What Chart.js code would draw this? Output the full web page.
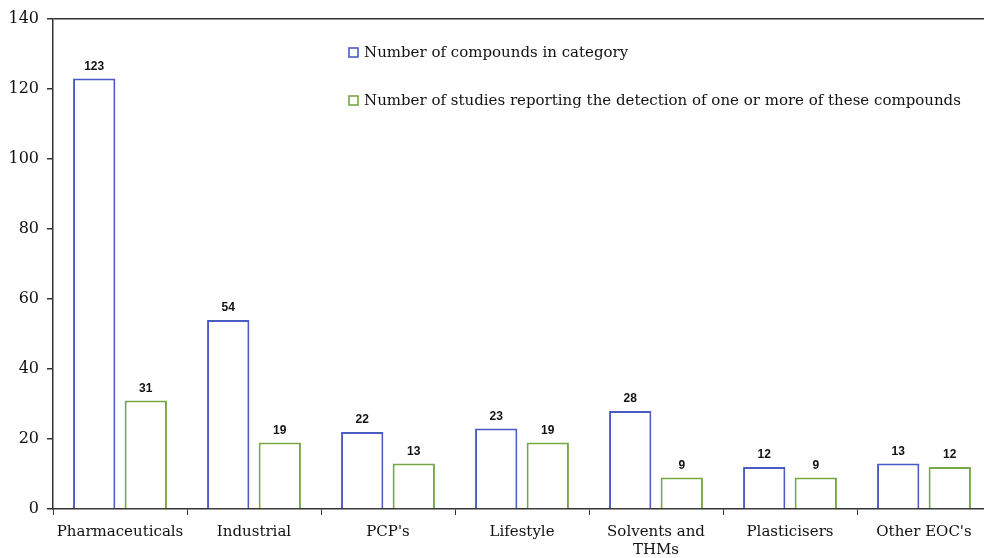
<!DOCTYPE html>
<html>
<head>
<meta charset="utf-8">
<script src="https://cdn.jsdelivr.net/npm/chart.js@4/dist/chart.umd.min.js"></script>
<style>
  html, body { margin: 0; padding: 0; background: #fff; overflow: hidden; }
  #wrap { width: 1000px; height: 558px; position: relative; }
</style>
</head>
<body>
<div id="wrap"><canvas id="chart"></canvas></div>
<script>
// data
const categories = ['Pharmaceuticals', 'Industrial', "PCP's", 'Lifestyle', ['Solvents and', 'THMs'], 'Plasticisers', "Other EOC's"];
const compoundCounts = [123, 54, 22, 23, 28, 12, 13];
const studyCounts = [31, 19, 13, 19, 9, 9, 12];
const yTicks = [0, 20, 40, 60, 80, 100, 120, 140];

const BLUE = '#4a5bc6';
const GREEN = '#78a845';
const SERIF = "'DejaVu Serif', serif";

// value labels above each bar
const barLabels = {
  id: 'barLabels',
  afterDatasetsDraw(chart) {
    const ctx = chart.ctx;
    ctx.save();
    ctx.font = "bold 12px 'Liberation Sans', Arial, sans-serif";
    ctx.fillStyle = '#111';
    ctx.textAlign = 'center';
    ctx.textBaseline = 'bottom';
    chart.data.datasets.forEach((ds, i) => {
      chart.getDatasetMeta(i).data.forEach((bar, j) => {
        ctx.fillText(ds.data[j], bar.x, bar.y - 6);
      });
    });
    ctx.restore();
  }
};

// legend sits inside the plot, stacked
const innerLegend = {
  id: 'innerLegend',
  afterDraw(chart) {
    const ctx = chart.ctx;
    const top = chart.chartArea.top;
    const x = chart.scales.x.getPixelForValue(2) - 39;
    const rows = [top + 34, top + 82];
    ctx.save();
    ctx.font = '15px ' + SERIF;
    ctx.textBaseline = 'middle';
    chart.data.datasets.forEach((ds, i) => {
      const y = rows[i];
      ctx.strokeStyle = ds.borderColor;
      ctx.lineWidth = 1.6;
      ctx.strokeRect(x, y - 5, 9, 9);
      ctx.fillStyle = '#111';
      ctx.fillText(ds.label, x + 15, y);
    });
    ctx.restore();
  }
};

new Chart(document.getElementById('chart'), {
  type: 'bar',
  data: {
    labels: categories,
    datasets: [
      { label: 'Number of compounds in category', data: compoundCounts, backgroundColor: '#fff', borderColor: BLUE, borderWidth: 2 },
      { label: 'Number of studies reporting the detection of one or more of these compounds', data: studyCounts, backgroundColor: '#fff', borderColor: GREEN, borderWidth: 2 }
    ]
  },
  options: {
    responsive: true,
    maintainAspectRatio: false,
    animation: false,
    layout: { padding: { top: 19, right: 9 } },
    categoryPercentage: 0.77,
    barPercentage: 0.82,
    plugins: { legend: { display: false }, tooltip: { enabled: false } },
    scales: {
      x: {
        border: { color: '#333', width: 1.5 },
        grid: { color: 'transparent', tickColor: '#333', tickLength: 6, offset: true },
        ticks: { color: '#111', font: { family: SERIF, size: 15 }, padding: 8, maxRotation: 0, autoSkip: false },
        afterFit(s) { s.height = 49; }
      },
      y: {
        min: 0, max: 140,
        afterBuildTicks(s) { s.ticks = yTicks.map(v => ({ value: v })); },
        border: { color: '#333', width: 1.5 },
        grid: { color: c => c.tick && c.tick.value === 140 ? '#333' : 'transparent', lineWidth: 1.5, tickColor: '#333', tickLength: 6 },
        ticks: { color: '#111', font: { family: SERIF, size: 16 }, padding: 8 },
        afterFit(s) { s.width = 53; }
      }
    }
  },
  plugins: [barLabels, innerLegend]
});
</script>
</body>
</html>
